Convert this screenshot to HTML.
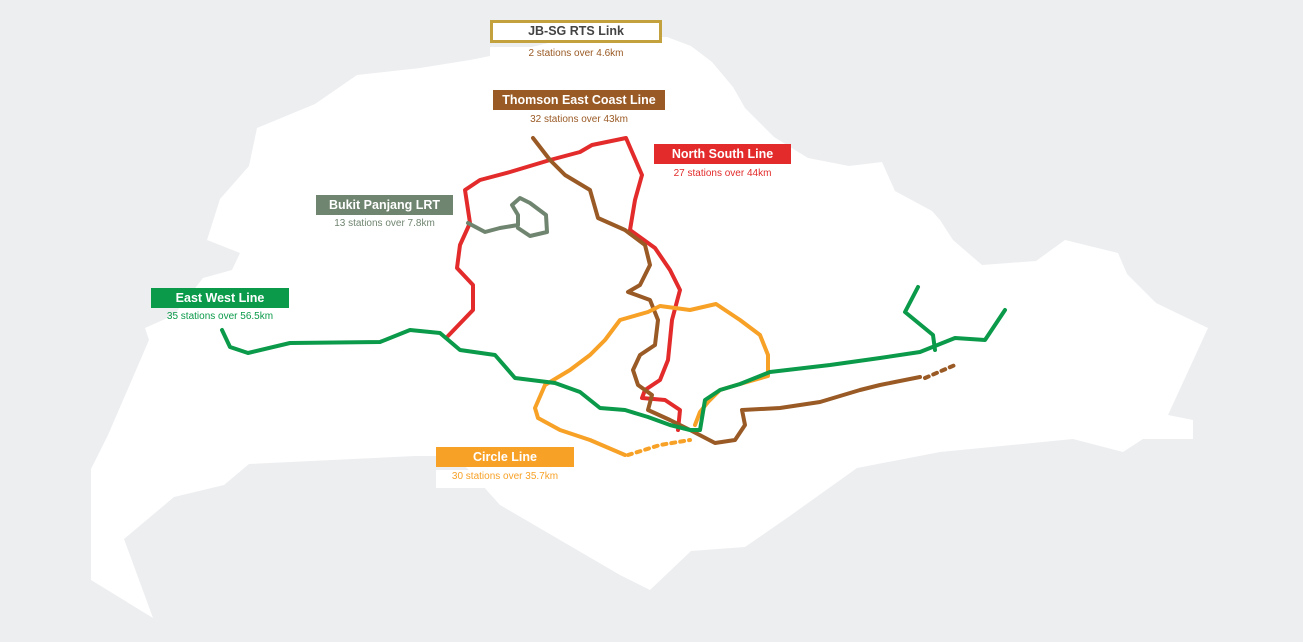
<!DOCTYPE html>
<html><head><meta charset="utf-8"><style>
body{margin:0;width:1303px;height:642px;background:#edeef0;overflow:hidden;font-family:"Liberation Sans",sans-serif;position:relative}
svg{position:absolute;left:0;top:0}
.lab{position:absolute;font-weight:bold;font-size:12.5px;text-align:center;color:#fff;line-height:20px}
.sub{position:absolute;font-size:10px;text-align:center;background:#fff;line-height:14px}
</style></head><body>
<svg width="1303" height="642" viewBox="0 0 1303 642">
<path fill="#fff" d="M357 75 L420 68 L470 60 L520 50 L560 40 L667 37 L691 46 L712 62 L733 87 L745 108 L774 137 L808 158 L849 166 L882 162 L895 191 L932 211 L940 220 L953 240 L982 265 L1036 261 L1065 240 L1118 253 L1127 274 L1156 303 L1208 328 L1168 415 L1193 420 L1193 439 L1143 439 L1123 452 L1073 439 L940 452 L857 468 L787 518 L745 547 L691 551 L650 590 L620 575 L560 540 L500 505 L456 456 L415 456 L249 464 L224 485 L174 497 L124 539 L153 618 L91 580 L91 469 L108 435 L149 340 L145 328 L174 315 L203 278 L232 270 L240 253 L207 240 L220 199 L249 166 L257 128 L315 104 Z"/>
<g fill="none" stroke-width="4" stroke-linejoin="round" stroke-linecap="round">
<path stroke="#e32b2b" d="M448 336 L473 310 L473 285 L457 268 L460 245 L470 223 L465 190 L480 180 L510 172 L550 160 L580 152 L592 145 L626 138 L642 175 L635 200 L630 230 L655 248 L670 270 L680 290 L672 320 L668 360 L660 380 L645 390 L642 398 L665 400 L680 410 L678 430"/>
<path stroke="#9a5a25" d="M533 138 L550 160 L565 175 L590 190 L598 218 L625 230 L645 245 L650 265 L640 285 L628 292 L650 300 L658 320 L655 345 L640 355 L633 370 L638 385 L652 395 L648 410 L670 420 L690 430 L715 443 L735 440 L745 425 L742 410 L780 408 L820 402 L860 390 L880 385 L920 377"/>
<path stroke="#9a5a25" stroke-dasharray="4 5" d="M925 378 L955 365"/>
<path stroke="#f7a127" d="M625 455 L590 440 L560 430 L538 418 L535 408 L545 385 L570 370 L590 355 L605 340 L620 320 L648 312 L660 306 L690 310 L716 304 L740 320 L760 335 L768 355 L768 376 L740 384 L720 390 L708 402 L700 412 L695 425"/>
<path stroke="#f7a127" stroke-dasharray="4 5" d="M628 455 L660 445 L690 440"/>
<path stroke="#0a9a4a" d="M222 330 L230 347 L248 353 L290 343 L380 342 L410 330 L440 333 L460 350 L495 355 L515 378 L555 383 L580 392 L600 408 L625 410 L648 417 L670 425 L690 430 L700 430 L705 400 L720 390 L740 384 L770 372 L830 365 L880 358 L920 352 L955 338 L985 340 L1005 310"/>
<path stroke="#0a9a4a" d="M918 287 L905 312 L933 335 L935 350"/>
<path stroke="#708570" d="M468 223 L485 232 L500 228 L518 225 L518 215 L512 205 L520 198 L530 203 L546 215 L547 232 L530 236 L518 228"/>
</g>
</svg>
<div class="lab" style="left:490px;top:20px;width:172px;height:23px;background:#fff;border:3px solid #c3a13d;box-sizing:border-box;color:#444;line-height:17px">JB-SG RTS Link</div>
<div class="sub" style="left:490px;top:47px;width:172px;height:18px;color:#9a5a25">2 stations over 4.6km</div>
<div class="lab" style="left:493px;top:90px;width:172px;background:#9a5a25">Thomson East Coast Line</div>
<div class="sub" style="left:493px;top:113px;width:172px;color:#9a5a25;background:none">32 stations over 43km</div>
<div class="lab" style="left:654px;top:144px;width:137px;background:#e32b2b">North South Line</div>
<div class="sub" style="left:654px;top:167px;width:137px;color:#e32b2b;background:none">27 stations over 44km</div>
<div class="lab" style="left:316px;top:195px;width:137px;background:#708570">Bukit Panjang LRT</div>
<div class="sub" style="left:316px;top:217px;width:137px;color:#708570;background:none">13 stations over 7.8km</div>
<div class="lab" style="left:151px;top:288px;width:138px;background:#0a9a4a">East West Line</div>
<div class="sub" style="left:151px;top:310px;width:138px;color:#0a9a4a;background:none">35 stations over 56.5km</div>
<div class="lab" style="left:436px;top:447px;width:138px;background:#f7a127">Circle Line</div>
<div class="sub" style="left:436px;top:470px;width:138px;height:18px;color:#f7a127">30 stations over 35.7km</div>
</body></html>
